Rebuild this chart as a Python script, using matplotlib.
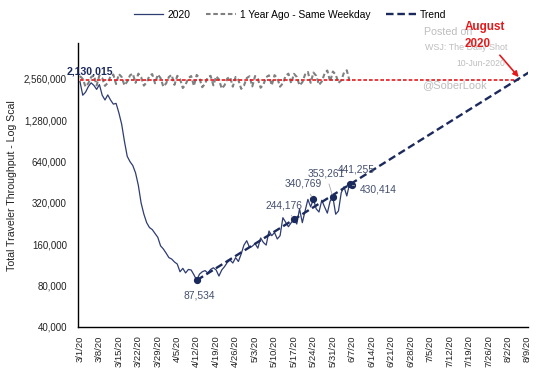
import matplotlib
matplotlib.use('Agg')
import matplotlib.pyplot as plt
import matplotlib.ticker as mticker
import numpy as np
import pandas as pd

plt.rcParams['font.family'] = ['Liberation Sans', 'DejaVu Sans']

# ---------------- data ----------------
start_date = '2020-03-01'
# 2020 daily TSA throughput (thousands), from 3/1/20
traffic_2020_k = [
    2450, 1950, 2050, 2250, 2400, 2300, 2150, 2330, 1950, 1800,
    1960, 1800, 1680, 1700, 1450, 1200, 900, 700, 640, 600,
    530, 430, 320, 265, 230, 212, 205, 192, 180, 156,
    148, 138, 128, 125, 119, 115, 101, 107, 99, 105,
    104, 96, 87.534, 97, 101, 103, 99, 105, 108, 104,
    94, 104, 110, 118, 123, 117, 128, 120, 136, 158,
    170, 152, 155, 162, 150, 178, 165, 158, 200, 185,
    195, 175, 185, 250, 232, 215, 230, 244.176, 225, 290,
    230, 280, 340, 300, 340.769, 290, 275, 335, 300, 270,
    330, 353.261, 265, 280, 380, 420, 360, 441.255, 430.414,
]
# 1 year ago, same weekday (thousands), from 3/1/20
year_ago_k = [
    2690, 2560, 2250, 2380, 2640, 2720, 2300,
    2720, 2600, 2280, 2400, 2680, 2760, 2350,
    2780, 2650, 2300, 2450, 2720, 2800, 2400,
    2800, 2640, 2290, 2420, 2700, 2780, 2380,
    2760, 2600, 2250, 2380, 2650, 2740, 2320,
    2700, 2560, 2200, 2330, 2600, 2690, 2280,
    2740, 2590, 2230, 2360, 2640, 2700, 2300,
    2680, 2540, 2180, 2300, 2580, 2650, 2250,
    2650, 2520, 2170, 2290, 2600, 2680, 2260,
    2690, 2560, 2210, 2330, 2640, 2720, 2300,
    2730, 2600, 2250, 2380, 2700, 2800, 2380,
    2790, 2650, 2300, 2420, 2760, 2880, 2400,
    2850, 2700, 2320, 2450, 2800, 2950, 2450,
    2900, 2760, 2400, 2500, 2850, 2960, 2480,
]
trend_dates = ['2020-04-12', '2020-08-10']
trend_values = [87534, 2900000]
reference_dates = ['2020-03-01', '2020-08-06']
reference_value = 2520000
labeled_dates = ['2020-04-12', '2020-05-17', '2020-05-24', '2020-05-31', '2020-06-06', '2020-06-07']
labeled_values = [87534, 244176, 340769, 353261, 441255, 430414]
start_label = '2,130,015'
y_ticks = [40000, 80000, 160000, 320000, 640000, 1280000, 2560000]
x_tick_start, x_tick_end = '2020-03-01', '2020-08-09'

# ---------------- style ----------------
NAVY = '#1B2A5C'
LINE20 = '#2E3C72'
LABEL = '#44506E'
GRAY = '#808080'
RED = '#E31A1C'
WM = '#BDBDBD'

fig = plt.figure(figsize=(5.39, 3.74), dpi=100)
ax = fig.add_axes([78/539, 47/374, 450/539, 284/374])

d2020 = pd.date_range(start_date, periods=len(traffic_2020_k))
d2019 = pd.date_range(start_date, periods=len(year_ago_k))
v2020 = np.array(traffic_2020_k) * 1000
v2019 = np.array(year_ago_k) * 1000

ax.plot(d2019, v2019, color=GRAY, lw=1.5, ls=(0, (2.2, 1.3)), zorder=2,
        label='1 Year Ago - Same Weekday')
ax.plot(pd.to_datetime(reference_dates), [reference_value]*2, color=RED, lw=1.2,
        ls=(0, (2.2, 1.2)), zorder=3)
ax.plot(d2020, v2020, color=LINE20, lw=0.9, zorder=4, label='2020')
ax.plot(pd.to_datetime(trend_dates), trend_values, color=NAVY, lw=1.7,
        ls=(0, (3.2, 1.6)), zorder=5, label='Trend')
ax.plot(pd.to_datetime(labeled_dates), labeled_values, 'o', color=NAVY, ms=4.2, zorder=6)

ax.set_yscale('log', base=2)
ax.set_ylim(40000, 4.68e6)
ax.set_yticks(y_ticks)
ax.yaxis.set_major_formatter(mticker.FuncFormatter(lambda v, p: f'{int(round(v)):,}'))
ax.yaxis.set_minor_locator(mticker.NullLocator())

xt = pd.date_range(x_tick_start, x_tick_end, freq='7D')
x0 = pd.Timestamp(x_tick_start)
ax.set_xlim(x0 - pd.Timedelta(hours=17), x0 + pd.Timedelta(days=161.2))
ax.set_xticks(xt)
ax.set_xticklabels([f'{d.month}/{d.day}/{d.year % 100}' for d in xt], rotation=90)
ax.xaxis.set_minor_locator(mticker.NullLocator())
ax.tick_params(axis='x', length=0, pad=6, labelsize=6.8, colors='#222222')
ax.tick_params(axis='y', length=0, pad=8, labelsize=7, colors='#222222')
for s in ['top', 'right']:
    ax.spines[s].set_visible(False)
for s in ['left', 'bottom']:
    ax.spines[s].set_color('black')
    ax.spines[s].set_linewidth(1.0)

fig.text(12/539, 0.505, 'Total Traveler Throughput - Log Scal', rotation=90,
         ha='center', va='center', fontsize=7.6, color='#222222')

# start label
ax.text(x0 + pd.Timedelta(days=3.6), 2.88e6, start_label, ha='center', va='center',
        fontsize=7.6, fontweight='bold', color=NAVY, zorder=7)

# data labels (offsets in points)
offsets = [(2, -11), (-7, 10), (-7, 11), (-5, 17), (5, 10), (19, -3)]
leaders = [False, True, True, True, False, True]
for dt, val, off, lead in zip(labeled_dates, labeled_values, offsets, leaders):
    ap = dict(arrowstyle='-', color='#A6A6A6', lw=0.6, shrinkA=2, shrinkB=2) if lead else None
    ax.annotate(f'{val:,}', xy=(pd.Timestamp(dt), val), xytext=off,
                textcoords='offset points', ha='center', va='center',
                fontsize=7.4, color=LABEL, arrowprops=ap, zorder=7)

# watermark
fig.text(424/539, 1-32/374, 'Posted on', fontsize=7.7, color=WM, ha='left', va='center')
fig.text(425/539, 1-47/374, 'WSJ: The Daily Shot', fontsize=6.4, color=WM, ha='left', va='center')
fig.text(505/539, 1-63/374, '10-Jun-2020', fontsize=6.2, color=WM, ha='right', va='center')
fig.text(422/539, 1-85/374, '@SoberLook', fontsize=7.9, color=WM, ha='left', va='center')

# August 2020 callout
fig.text(465/539, 1-27/374, 'August', fontsize=8.4, fontweight='bold', color=RED, ha='left', va='center')
fig.text(465/539, 1-44/374, '2020', fontsize=8.4, fontweight='bold', color=RED, ha='left', va='center')
ax.annotate('', xy=(pd.Timestamp('2020-08-06') + pd.Timedelta(hours=12), 2.55e6),
            xytext=(pd.Timestamp('2020-07-29') + pd.Timedelta(hours=10), 3.95e6),
            arrowprops=dict(arrowstyle='-|>', color=RED, lw=1.2, mutation_scale=8), zorder=8)

# legend
handles, labels = ax.get_legend_handles_labels()
order = [labels.index('2020'), labels.index('1 Year Ago - Same Weekday'), labels.index('Trend')]
fig.legend([handles[i] for i in order], [labels[i] for i in order], loc='center',
           bbox_to_anchor=(0.538, 1-15/374), ncol=3, frameon=False, fontsize=7.4,
           handlelength=2.9, columnspacing=1.5, handletextpad=0.4)

fig.savefig('out.png', dpi=100)
